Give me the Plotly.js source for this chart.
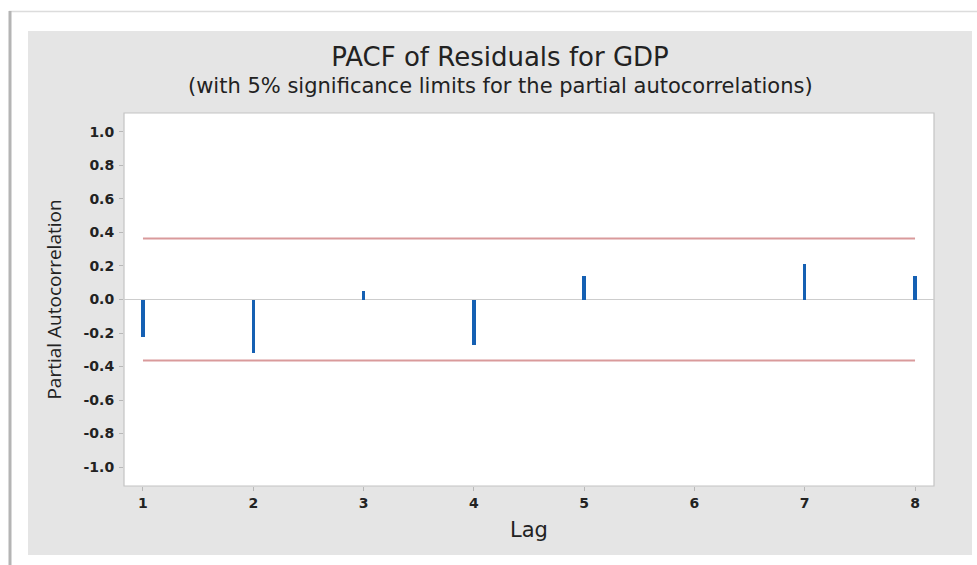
<!DOCTYPE html>
<html>
<head>
<meta charset="utf-8">
<script src="https://cdn.plot.ly/plotly-3.0.1.min.js"></script>
<style>
  html, body { margin: 0; padding: 0; background: #ffffff; }
  #chart { width: 977px; height: 565px; }
</style>
</head>
<body>
<div id="chart"></div>
<script>
// Partial autocorrelations of the GDP model residuals, by lag
const lags = [1, 2, 3, 4, 5, 6, 7, 8];
const pacf = [-0.223, -0.322, 0.050, -0.273, 0.143, 0.0, 0.213, 0.143];
// 5% significance limits
const upperLimit = 0.364;
const lowerLimit = -0.364;
const yTicks = [-1.0, -0.8, -0.6, -0.4, -0.2, 0.0, 0.2, 0.4, 0.6, 0.8, 1.0];

const firstLag = lags[0];
const lastLag = lags[lags.length - 1];

const textColor = '#222222';
const wideFont = 'DejaVu Sans, Open Sans, sans-serif';
const tickFont = { family: wideFont, size: 14, color: textColor, weight: 'bold' };

const traces = [
  {
    type: 'bar',
    x: lags,
    y: pacf,
    width: 0.03,
    marker: { color: '#1560b3', line: { width: 0 } },
    hoverinfo: 'x+y'
  },
  {
    type: 'scatter',
    mode: 'lines',
    x: [firstLag, lastLag],
    y: [upperLimit, upperLimit],
    line: { color: '#d99a9b', width: 2 },
    hoverinfo: 'skip'
  },
  {
    type: 'scatter',
    mode: 'lines',
    x: [firstLag, lastLag],
    y: [lowerLimit, lowerLimit],
    line: { color: '#d99a9b', width: 2 },
    hoverinfo: 'skip'
  }
];

// plot area: 124..934 px across, 113..486 px down
const L = 124, R = 934, T = 113, B = 486, W = 977, H = 565;
const px = v => (v - L) / (R - L);
const py = v => (B - v) / (B - T);

const layout = {
  width: W,
  height: H,
  margin: { l: L, r: W - R, t: T, b: H - B, pad: 0 },
  paper_bgcolor: '#ffffff',
  plot_bgcolor: 'rgba(0,0,0,0)',
  showlegend: false,
  bargap: 0,
  title: {
    text: 'PACF of Residuals for GDP',
    font: { family: wideFont, size: 26, color: textColor },
    xref: 'container', yref: 'container',
    x: 500 / W, xanchor: 'center',
    y: 1 - 57 / H, yanchor: 'middle'
  },
  annotations: [
    {
      text: '(with 5% significance limits for the partial autocorrelations)',
      xref: 'paper', yref: 'paper',
      x: px(500), y: py(86),
      xanchor: 'center', yanchor: 'middle',
      showarrow: false,
      font: { family: wideFont, size: 21, color: textColor }
    }
  ],
  xaxis: {
    range: [0.828, 8.172],
    tickmode: 'array',
    tickvals: lags,
    ticktext: lags.map(String),
    ticks: 'outside',
    ticklen: 4,
    tickwidth: 1,
    tickcolor: '#b8b8b8',
    tickfont: tickFont,
    showgrid: false,
    zeroline: false,
    showline: false,
    title: {
      text: 'Lag',
      font: { family: wideFont, size: 21, color: textColor },
      standoff: 12
    }
  },
  yaxis: {
    range: [-1.113, 1.113],
    tickmode: 'array',
    tickvals: yTicks,
    ticktext: yTicks.map(v => v.toFixed(1)),
    ticks: 'outside',
    ticklen: 4,
    tickwidth: 1,
    tickcolor: '#b8b8b8',
    tickfont: tickFont,
    ticklabelstandoff: 2,
    showgrid: false,
    zeroline: true,
    zerolinecolor: '#cdcdcd',
    zerolinewidth: 1.5,
    showline: false,
    title: {
      text: 'Partial Autocorrelation',
      font: { family: 'Open Sans, DejaVu Sans, sans-serif', size: 19, color: textColor },
      standoff: 16
    }
  },
  shapes: [
    // outer frame edges
    { type: 'line', xref: 'paper', yref: 'paper', layer: 'below',
      x0: px(9), x1: px(977), y0: py(11.5), y1: py(11.5),
      line: { color: '#dcdcdc', width: 1.5 } },
    { type: 'line', xref: 'paper', yref: 'paper', layer: 'below',
      x0: px(10), x1: px(10), y0: py(11), y1: py(565),
      line: { color: '#b4b4b4', width: 3 } },
    // grey chart panel
    { type: 'rect', xref: 'paper', yref: 'paper', layer: 'below',
      x0: px(28), x1: px(972), y0: py(555), y1: py(31),
      fillcolor: '#e5e5e5', line: { width: 0 } },
    // white plot area
    { type: 'rect', xref: 'paper', yref: 'paper', layer: 'below',
      x0: 0, x1: 1, y0: 0, y1: 1,
      fillcolor: '#ffffff', line: { color: '#c4c4c4', width: 1.2 } }
  ]
};

Plotly.newPlot('chart', traces, layout, { displayModeBar: false, staticPlot: true });
</script>
</body>
</html>
